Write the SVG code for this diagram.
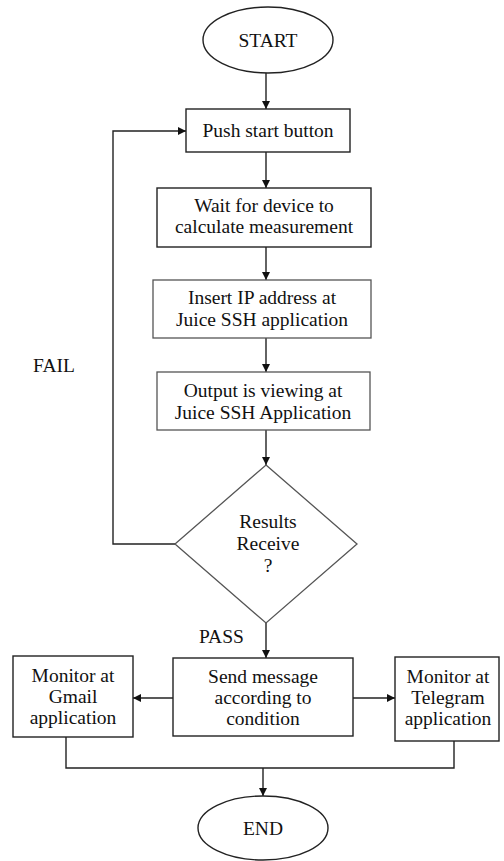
<svg xmlns="http://www.w3.org/2000/svg" width="504" height="861" viewBox="0 0 504 861">
<style>
.n{fill:#fff;stroke:#222;stroke-width:1.4}
.g{fill:#fff;stroke:#555;stroke-width:1.3}
.t{font-family:"Liberation Serif","DejaVu Serif","Times New Roman",serif;font-size:19.5px;fill:#111;text-anchor:middle}
.l{font-family:"Liberation Serif","DejaVu Serif","Times New Roman",serif;font-size:19.5px;fill:#111}
.c{fill:none;stroke:#222;stroke-width:1.4}
</style>
<defs>
<marker id="a" viewBox="0 0 10 10" refX="10" refY="5" markerWidth="8" markerHeight="8" markerUnits="userSpaceOnUse" orient="auto">
<path d="M0,0 L10,5 L0,10 z" fill="#111"/>
</marker>
</defs>
<rect width="504" height="861" fill="#fff"/>
<g id="connectors">
<path class="c" d="M266,73 V109" marker-end="url(#a)"/>
<path class="c" d="M266,152 V188" marker-end="url(#a)"/>
<path class="c" d="M266,247 V280" marker-end="url(#a)"/>
<path class="c" d="M266,338 V372" marker-end="url(#a)"/>
<path class="c" d="M266,430 V465" marker-end="url(#a)"/>
<path class="c" d="M175,544 H113 V131 H186" marker-end="url(#a)"/>
<path class="c" d="M266,623 V658" marker-end="url(#a)"/>
<path class="c" d="M173,698 H133" marker-end="url(#a)"/>
<path class="c" d="M353,698 H395" marker-end="url(#a)"/>
<path class="c" d="M66,737 V768 H454 V741"/>
<path class="c" d="M263,768 V796" marker-end="url(#a)"/>
</g>
<g id="start">
<ellipse class="n" cx="268" cy="40" rx="65" ry="33"/>
<text class="t" x="268" y="47">START</text>
</g>
<g id="push">
<rect class="n" x="186" y="109" width="164" height="43"/>
<text class="t" x="268" y="137">Push start button</text>
</g>
<g id="wait">
<rect class="n" x="157" y="188" width="214" height="59"/>
<text class="t" x="264" y="212">Wait for device to</text>
<text class="t" x="264" y="233">calculate measurement</text>
</g>
<g id="insert">
<rect class="g" x="153" y="280" width="218" height="58"/>
<text class="t" x="262" y="304">Insert IP address at</text>
<text class="t" x="262" y="326">Juice SSH application</text>
</g>
<g id="output">
<rect class="g" x="157" y="372" width="213" height="58"/>
<text class="t" x="263" y="397">Output is viewing at</text>
<text class="t" x="263" y="419">Juice SSH Application</text>
</g>
<g id="decision">
<polygon class="g" points="266,465 357,544 266,623 175,544"/>
<text class="t" x="268" y="528">Results</text>
<text class="t" x="268" y="550">Receive</text>
<text class="t" x="268" y="572">?</text>
</g>
<text class="l" x="33" y="372">FAIL</text>
<text class="l" x="199" y="643">PASS</text>
<g id="send">
<rect class="n" x="173" y="658" width="180" height="78"/>
<text class="t" x="263" y="683">Send message</text>
<text class="t" x="263" y="704">according to</text>
<text class="t" x="263" y="725">condition</text>
</g>
<g id="gmail">
<rect class="n" x="13" y="656" width="120" height="81"/>
<text class="t" x="73" y="682">Monitor at</text>
<text class="t" x="73" y="703">Gmail</text>
<text class="t" x="73" y="724">application</text>
</g>
<g id="telegram">
<rect class="n" x="395" y="657" width="104" height="84"/>
<text class="t" x="448" y="683">Monitor at</text>
<text class="t" x="448" y="704">Telegram</text>
<text class="t" x="448" y="725">application</text>
</g>
<g id="end">
<ellipse class="n" cx="263" cy="828" rx="65" ry="32"/>
<text class="t" x="263" y="835">END</text>
</g>
</svg>
